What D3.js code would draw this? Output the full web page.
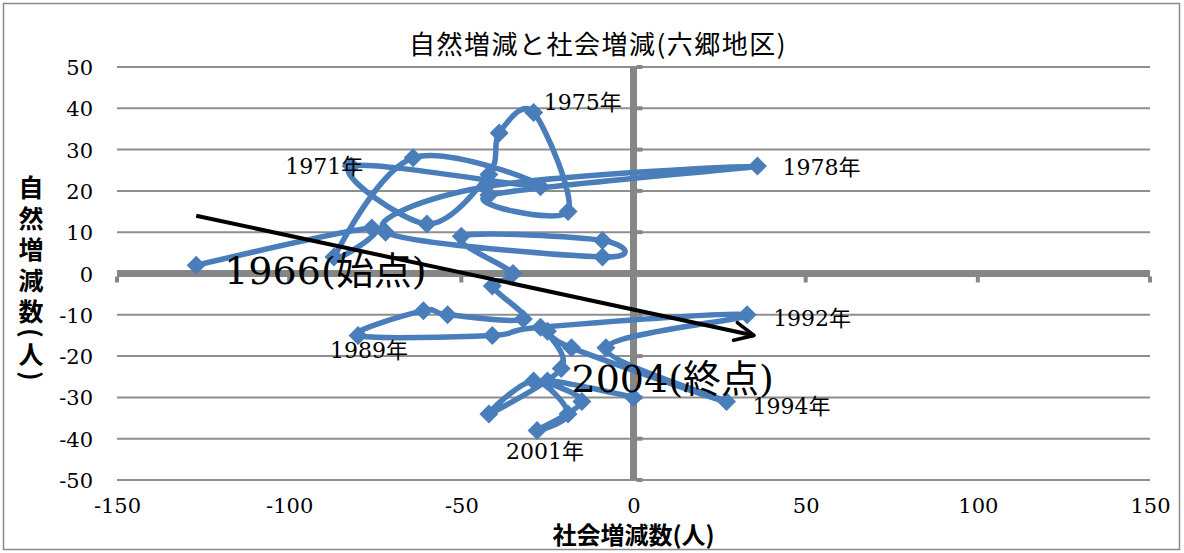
<!DOCTYPE html>
<html>
<head>
<meta charset="utf-8">
<script src="https://cdn.jsdelivr.net/npm/d3@7"></script>
<style>
  body { margin: 0; background: #fff; }
  svg { display: block; }
</style>
</head>
<body>
<svg id="chart" width="1184" height="553"></svg>
<script>
// Natural vs. social population change, Rokugo district, 1966-2004
const years = [1966, 1967, 1968, 1969, 1970, 1971, 1972, 1973, 1974, 1975,
               1976, 1977, 1978, 1979, 1980, 1981, 1982, 1983, 1984, 1985,
               1986, 1987, 1988, 1989, 1990, 1991, 1992, 1993, 1994, 1995,
               1996, 1997, 1998, 1999, 2000, 2001, 2002, 2003, 2004];
// social change (x) per year
const socialChange = [-127, -76, -87, -64, -27, -82, -60, -42, -39, -29,
                      -19, -42, 36, -43, -72, -9, -9, -50, -35, -41,
                      -32, -54, -61, -80, -41, -27, 33, -8, 27, -18,
                      -25, -21, -42, -29, -19, -28, -15, -25, 0];
// natural change (y) per year
const naturalChange = [2, 11, 4, 28, 21, 26, 12, 24, 34, 39,
                       15, 19, 26, 21, 10, 4, 8, 9, 0, -3,
                       -11, -10, -9, -15, -15, -13, -10, -18, -31, -18,
                       -14, -23, -34, -26, -34, -38, -31, -26, -30];

const xTicks = [-150, -100, -50, 0, 50, 100, 150];
const yTicks = [50, 40, 30, 20, 10, 0, -10, -20, -30, -40, -50];
const labelledYears = [1971, 1975, 1978, 1989, 1992, 1994, 2001];
const startYear = 1966;
const endYear = 2004;
// overall direction arrow (start / end in data units)
const trendFrom = [-127, 14];
const trendTo = [35, -15];

const title = "自然増減と社会増減(六郷地区)";
const xTitle = "社会増減数(人)";
const yTitle = "自然増減数(人)";

const points = years.map((yr, i) => ({ year: yr, sx: socialChange[i], ny: naturalChange[i] }));

const svg = d3.select("#chart");
const x = d3.scaleLinear().domain([-150, 150]).range([117, 1150]);
const y = d3.scaleLinear().domain([-50, 50]).range([480, 67]);

const serif = "'DejaVu Serif', 'Liberation Serif', 'Noto Sans CJK JP', serif";
const cjk = "'Noto Sans CJK JP', 'Noto Sans', sans-serif";
const blue = "#4a7ebb";
const gridGrey = "#8e8e8e";
const axisGrey = "#868686";

// outer frame
svg.append("rect")
  .attr("x", 3.5).attr("y", 3.5).attr("width", 1176).attr("height", 546)
  .attr("fill", "#fff").attr("stroke", "#8a8a8a").attr("stroke-width", 1.5);

// title
svg.append("text")
  .attr("x", 598).attr("y", 54)
  .attr("text-anchor", "middle")
  .attr("font-family", cjk).attr("font-size", 26)
  .attr("letter-spacing", 1.5)
  .attr("fill", "#000")
  .text(title);

// horizontal gridlines
svg.append("g").selectAll("line")
  .data(yTicks.filter(t => t !== 0))
  .join("line")
  .attr("x1", x(-150)).attr("x2", x(150))
  .attr("y1", d => y(d)).attr("y2", d => y(d))
  .attr("stroke", gridGrey).attr("stroke-width", 2);

// zero axes
svg.append("line")
  .attr("x1", x(-150)).attr("x2", x(150))
  .attr("y1", y(0)).attr("y2", y(0))
  .attr("stroke", axisGrey).attr("stroke-width", 7);
svg.append("line")
  .attr("x1", x(0)).attr("x2", x(0))
  .attr("y1", y(50)).attr("y2", y(-50))
  .attr("stroke", axisGrey).attr("stroke-width", 7);

// tick marks on the zero axes
svg.append("g").selectAll("line")
  .data(yTicks)
  .join("line")
  .attr("x1", x(0) + 3).attr("x2", x(0) + 9)
  .attr("y1", d => y(d)).attr("y2", d => y(d))
  .attr("stroke", axisGrey).attr("stroke-width", 4);
svg.append("g").selectAll("line")
  .data(xTicks)
  .join("line")
  .attr("x1", d => x(d)).attr("x2", d => x(d))
  .attr("y1", y(0) + 3).attr("y2", y(0) + 9)
  .attr("stroke", axisGrey).attr("stroke-width", 4);

// tick labels via d3 axes (lines hidden, labels only), plain hyphen minus
const fmt = d => String(d);
const yAxis = svg.append("g")
  .attr("transform", `translate(${x(-150)},0)`)
  .call(d3.axisLeft(y).tickValues(yTicks).tickFormat(fmt).tickSize(0).tickPadding(24));
const xAxis = svg.append("g")
  .attr("transform", `translate(0,${y(-50)})`)
  .call(d3.axisBottom(x).tickValues(xTicks).tickFormat(fmt).tickSize(0).tickPadding(22));
[yAxis, xAxis].forEach(g => {
  g.select(".domain").remove();
  g.selectAll("text")
    .attr("font-family", serif)
    .attr("font-size", 21)
    .attr("fill", "#000");
});
yAxis.selectAll("text").attr("dy", "0.36em");
xAxis.selectAll("text").attr("dy", "0.5em");

// axis titles
svg.append("text")
  .attr("x", x(0)).attr("y", 544)
  .attr("text-anchor", "middle")
  .attr("font-family", cjk).attr("font-size", 24).attr("font-weight", "bold")
  .attr("fill", "#000")
  .text(xTitle);

const yTitleG = svg.append("g");
let cursor = 172;
Array.from(yTitle).forEach(ch => {
  const isParen = ch === "(" || ch === ")";
  const adv = isParen ? 12 : 31;
  const cy = cursor + adv / 2;
  cursor += adv;
  yTitleG.append("text")
    .attr("x", 0).attr("y", 0)
    .attr("transform", `translate(31,${cy}) rotate(${isParen ? 90 : 0})`)
    .attr("text-anchor", "middle")
    .attr("dy", "0.36em")
    .attr("font-family", cjk).attr("font-size", 25).attr("font-weight", "bold")
    .attr("fill", "#000")
    .text(ch);
});

// smoothed trajectory
const line = d3.line()
  .x(d => x(d.sx))
  .y(d => y(d.ny))
  .curve(d3.curveCardinal.tension(0));
svg.append("path")
  .datum(points)
  .attr("d", line)
  .attr("fill", "none")
  .attr("stroke", blue)
  .attr("stroke-width", 5.5)
  .attr("stroke-linejoin", "round");

// diamond markers
svg.append("g").selectAll("path")
  .data(points)
  .join("path")
  .attr("transform", d => `translate(${x(d.sx)},${y(d.ny)})`)
  .attr("d", "M0,-9.5L9.5,0L0,9.5L-9.5,0Z")
  .attr("fill", blue);

// direction arrow
svg.append("defs").append("marker")
  .attr("id", "chev")
  .attr("viewBox", "-22 -12 24 24")
  .attr("refX", 0).attr("refY", 0)
  .attr("markerWidth", 24).attr("markerHeight", 24)
  .attr("markerUnits", "userSpaceOnUse")
  .attr("orient", "auto")
  .append("path")
  .attr("d", "M-19,-9L0,0L-19,9")
  .attr("fill", "none")
  .attr("stroke", "#000")
  .attr("stroke-width", 3.6)
  .attr("stroke-linecap", "round")
  .attr("stroke-linejoin", "round");
svg.append("line")
  .attr("x1", x(trendFrom[0])).attr("y1", y(trendFrom[1]))
  .attr("x2", x(trendTo[0])).attr("y2", y(trendTo[1]))
  .attr("stroke", "#000").attr("stroke-width", 4)
  .attr("marker-end", "url(#chev)");

// year labels (offsets in pixels from the point)
const labelOffsets = {
  1971: [-66, 8], 1975: [10, -2], 1978: [25, 9], 1989: [-28, 23],
  1992: [26, 11], 1994: [26, 12], 2001: [-31, 29]
};
const byYear = new Map(points.map(p => [p.year, p]));
svg.append("g").selectAll("text")
  .data(labelledYears)
  .join("text")
  .attr("x", d => x(byYear.get(d).sx) + labelOffsets[d][0])
  .attr("y", d => y(byYear.get(d).ny) + labelOffsets[d][1])
  .attr("font-family", serif).attr("font-size", 22)
  .attr("fill", "#000")
  .text(d => d + "年");

// start / end labels
const p0 = byYear.get(startYear);
const p1 = byYear.get(endYear);
svg.append("text")
  .attr("x", x(p0.sx) + 28).attr("y", y(p0.ny) + 19)
  .attr("font-family", serif).attr("font-size", 38)
  .attr("fill", "#000")
  .text(startYear + "(始点)");
svg.append("text")
  .attr("x", x(p1.sx) - 62).attr("y", y(p1.ny) - 5)
  .attr("font-family", serif).attr("font-size", 38)
  .attr("fill", "#000")
  .text(endYear + "(終点)");
</script>
</body>
</html>
